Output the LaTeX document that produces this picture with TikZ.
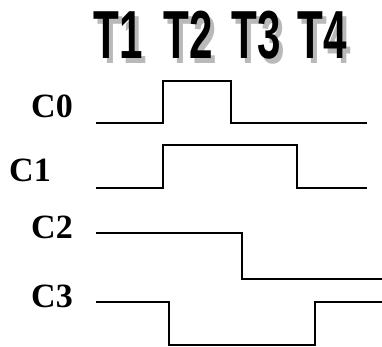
\documentclass[tikz,border=0pt]{standalone}
\usepackage{fontspec}
\setmainfont{Liberation Serif}
\newfontfamily\tfont{Liberation Sans}
\begin{document}
\begin{tikzpicture}[x=1pt,y=-1pt,
  tlab/.style={font=\fontsize{68}{68}\selectfont\tfont\bfseries, xscale=0.62, inner sep=0pt},
  tshadow/.style={tlab, text=gray!55},
  clab/.style={font=\fontsize{34}{34}\selectfont\bfseries, inner sep=0pt},
  wave/.style={line width=1.6pt, line join=miter}]
\useasboundingbox (0,0) rectangle (382,347);
% time labels
\foreach \i/\x in {1/118,2/188,3/256,4/322}{
  \node[tshadow] (ts\i) at (\x+4,40) {T\i};
  \node[tlab] (t\i) at (\x,35) {T\i};
}
% channel labels
\node[clab] (c0) at (52,106) {C0};
\node[clab] (c1) at (30,170) {C1};
\node[clab] (c2) at (52,227) {C2};
\node[clab] (c3) at (52,296) {C3};
% waveforms
\draw[wave] (96,123) -- (163,123) -- (163,81) -- (231,81) -- (231,123) -- (367,123);
\draw[wave] (96,188) -- (163,188) -- (163,145) -- (297,145) -- (297,188) -- (367,188);
\draw[wave] (96,233) -- (242,233) -- (242,279) -- (382,279);
\draw[wave] (96,302) -- (169,302) -- (169,345) -- (315,345) -- (315,302) -- (382,302);
\end{tikzpicture}
\end{document}
